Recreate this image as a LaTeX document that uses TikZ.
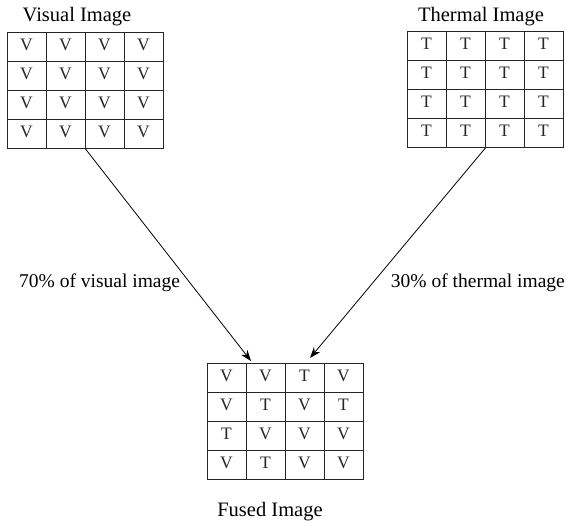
\documentclass[tikz,border=0pt]{standalone}
\usepackage{fontspec}
\setmainfont{Liberation Serif}
\usetikzlibrary{arrows.meta,positioning}
\tikzset{
  img/.style={draw=black!85, line width=0.9pt, minimum width=156pt, minimum height=116pt, inner sep=0pt, anchor=north west},
  pix/.style={font=\fontsize{17.5}{17.5}\selectfont, text=black!85, inner sep=0pt},
  title/.style={font=\fontsize{20.5}{22}\selectfont, inner sep=0pt},
  lbl/.style={font=\fontsize{19.5}{21}\selectfont, inner sep=0pt},
  flow/.style={-{Stealth[length=11pt,width=8pt]}, line width=0.8pt}
}
\begin{document}
\begin{tikzpicture}[x=1pt,y=-1pt]
\useasboundingbox (0,0) rectangle (566,527);
% the three images
\node[img] (vis) at (7,32) {};
\node[img] (the) at (407,31) {};
\node[img] (fus) at (207,363) {};
\foreach \g in {vis,the,fus}
  \foreach \i in {1,2,3}{
    \draw[black!85, line width=0.9pt] ([shift={(\i*39,0)}]\g.north west) -- ([shift={(\i*39,0)}]\g.south west);
    \draw[black!85, line width=0.9pt] ([shift={(0,\i*29)}]\g.north west) -- ([shift={(0,\i*29)}]\g.north east);
  }
% pixels
\foreach \r in {0,...,3}
  \foreach \c in {0,...,3}{
    \node[pix] (vis-\r-\c) at ([shift={(\c*39+19.5,\r*29+13)}]vis.north west) {V};
    \node[pix] (the-\r-\c) at ([shift={(\c*39+19.5,\r*29+13)}]the.north west) {T};
  }
\foreach \r/\c/\t in {0/0/V,0/1/V,0/2/T,0/3/V,
                      1/0/V,1/1/T,1/2/V,1/3/T,
                      2/0/T,2/1/V,2/2/V,2/3/V,
                      3/0/V,3/1/T,3/2/V,3/3/V}
  \node[pix] (fus-\r-\c) at ([shift={(\c*39+19.5,\r*29+13)}]fus.north west) {\t};
% titles
\node[title] (visT) at (77,17) {Visual Image};
\node[title] (theT) at (481,17) {Thermal Image};
\node[title] (fusT) at (270,512) {Fused Image};
% weights
\node[lbl, anchor=west] (visW) at (19,283) {70\% of visual image};
\node[lbl, anchor=east] (theW) at (565,283) {30\% of thermal image};
% arrows
\coordinate (inL) at (251,361);
\coordinate (inR) at (310,358);
\draw[flow] (vis.south) -- (inL);
\draw[flow] (the.south) -- (inR);
\end{tikzpicture}
\end{document}
